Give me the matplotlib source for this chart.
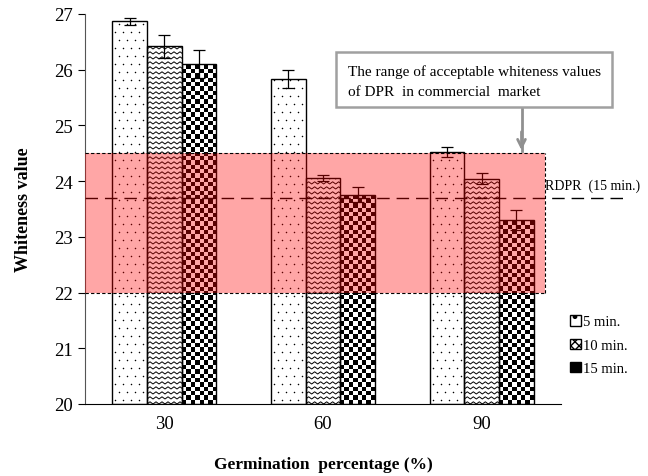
import numpy as np
import matplotlib.pyplot as plt
from matplotlib.patches import Rectangle, Patch

plt.rcParams['font.family'] = ['Liberation Serif', 'DejaVu Serif']

# data
groups = ['30', '60', '90']
series = ['5 min.', '10 min.', '15 min.']
means = [[26.87, 25.83, 24.52],   # 5 min
         [26.42, 24.06, 24.04],   # 10 min
         [26.10, 23.76, 23.31]]   # 15 min
errs = [[0.06, 0.16, 0.09],
        [0.21, 0.05, 0.10],
        [0.25, 0.13, 0.18]]
range_low, range_high = 22.0, 24.5
rdpr = 23.7

fig = plt.figure(figsize=(6.48, 4.77), dpi=100)
ax = fig.add_axes([85 / 648, 72 / 477, 476 / 648, 390 / 477])
ax.set_xlim(-0.5, 2.5)
ax.set_ylim(20, 27)

# pixel sizes in data units
px_x = 3.0 / 476
px_y = 7.0 / 390

w = 0.2185
x = np.arange(len(groups))


def dots(bar, x0, x1, top):
    step = 8
    ys = np.arange(20 + 4 * px_y, top, step * px_y)
    for k, yy in enumerate(ys):
        off = (k % 2) * step / 2
        xs = np.arange(x0 + (3 + off) * px_x, x1, step * px_x)
        ln, = ax.plot(xs, [yy] * len(xs), 'o', ms=1.1, color='black', mec='none', zorder=2)
        ln.set_clip_path(bar)


def zigzag(bar, x0, x1, top):
    period, amp, gap = 6, 2.2, 5
    xs = np.arange(x0, x1 + period * px_x, period / 2 * px_x)
    for yy in np.arange(20, top + gap * px_y, gap * px_y):
        ys = yy + np.where(np.arange(len(xs)) % 2 == 0, 0, amp * px_y)
        ln, = ax.plot(xs, ys, color='black', lw=0.7, zorder=2)
        ln.set_clip_path(bar)


def checker(bar, x0, x1, top):
    cell = 4.35
    nx = int(np.ceil((x1 - x0) / px_x / cell))
    ny = int(np.ceil((top - 20) / px_y / cell))
    arr = (np.add.outer(np.arange(ny), np.arange(nx)) % 2).astype(float)
    im = ax.imshow(arr, cmap='gray', extent=(x0, x0 + nx * cell * px_x, 20, 20 + ny * cell * px_y),
                   origin='lower', interpolation='nearest', aspect='auto', zorder=2)
    im.set_clip_path(bar)


fills = [dots, zigzag, checker]

for s in range(3):
    for g in range(3):
        x0 = x[g] + (s - 1.5) * w
        top = means[s][g]
        bar = Rectangle((x0, 20), w, top - 20, facecolor='white', edgecolor='none', zorder=1)
        ax.add_patch(bar)
        fills[s](bar, x0, x0 + w, top)
        ax.add_patch(Rectangle((x0, 20), w, top - 20, facecolor='none', edgecolor='black',
                               lw=1.0, zorder=3))
        ax.errorbar(x[g] + (s - 1) * w, top, yerr=errs[s][g], color='black', lw=0.9,
                    capsize=4, capthick=0.9, zorder=4)

ax.set_xlim(-0.5, 2.5)
ax.set_ylim(20, 27)

# reference dashed line (RDPR)
ax.plot([-0.5, 2.92], [rdpr, rdpr], color='black', lw=1.0, ls=(0, (9, 5)), zorder=5, clip_on=False)

# acceptable range band
xr = 2.40
ax.add_patch(Rectangle((-0.5, range_low), xr + 0.5, range_high - range_low,
                       facecolor=(1.0, 0.0, 0.0), alpha=0.35, edgecolor='none', zorder=6))
for yy in (range_low, range_high):
    ax.plot([-0.5, xr], [yy, yy], color='black', lw=0.8, ls=(0, (3, 2)), zorder=7)
ax.plot([xr, xr], [range_low, range_high], color='black', lw=0.8, ls=(0, (3, 2)), zorder=7)

ax.text(2.4, rdpr + 0.22, 'RDPR  (15 min.)', fontsize=10, ha='left', va='center', clip_on=False)

ax.spines['top'].set_visible(False)
ax.spines['right'].set_visible(False)
ax.spines['left'].set_color('#555555')
ax.set_xticks(x)
ax.set_xticklabels(groups, fontsize=13.5)
ax.tick_params(axis='x', length=0, pad=8)
ax.set_yticks(range(20, 28))
ax.tick_params(axis='y', labelsize=13.5, length=5, direction='out')
ax.set_ylabel('Whiteness value', fontsize=13, fontweight='bold', labelpad=16)
ax.set_xlabel('Germination  percentage (%)', fontsize=12.5, fontweight='bold', labelpad=17)

# annotation box with arrow
fig.patches.append(Rectangle((336 / 648, 1 - 108 / 477), 276 / 648, 55 / 477, transform=fig.transFigure,
                             facecolor='white', edgecolor='#a0a0a0', lw=1.8, zorder=10))
fig.text(348 / 648, 1 - 82 / 477, 'The range of acceptable whiteness values\nof DPR  in commercial  market',
         fontsize=11, ha='left', va='center', linespacing=1.65, zorder=11)
fig.add_artist(plt.Line2D([521.5 / 648, 521.5 / 648], [1 - 108 / 477, 1 - 152 / 477],
                          color='#909090', lw=2, zorder=10))
ax.annotate('', xy=(521.5 / 648, 1 - 154 / 477), xytext=(521.5 / 648, 1 - 130 / 477),
            xycoords='figure fraction', textcoords='figure fraction',
            arrowprops=dict(arrowstyle='->', color='#909090', lw=2, mutation_scale=14))

# legend
handles = [Patch(facecolor='white', edgecolor='black', hatch='.', label=series[0]),
           Patch(facecolor='white', edgecolor='black', hatch='xxxx', label=series[1]),
           Patch(facecolor='black', edgecolor='black', label=series[2])]
fig.legend(handles=handles, loc='upper left', bbox_to_anchor=(563 / 648, 1 - 309 / 477),
           frameon=False, fontsize=10.5, handlelength=0.7, handleheight=0.7, handletextpad=0.2,
           labelspacing=0.7, borderpad=0)

fig.savefig('out.png', dpi=100)
